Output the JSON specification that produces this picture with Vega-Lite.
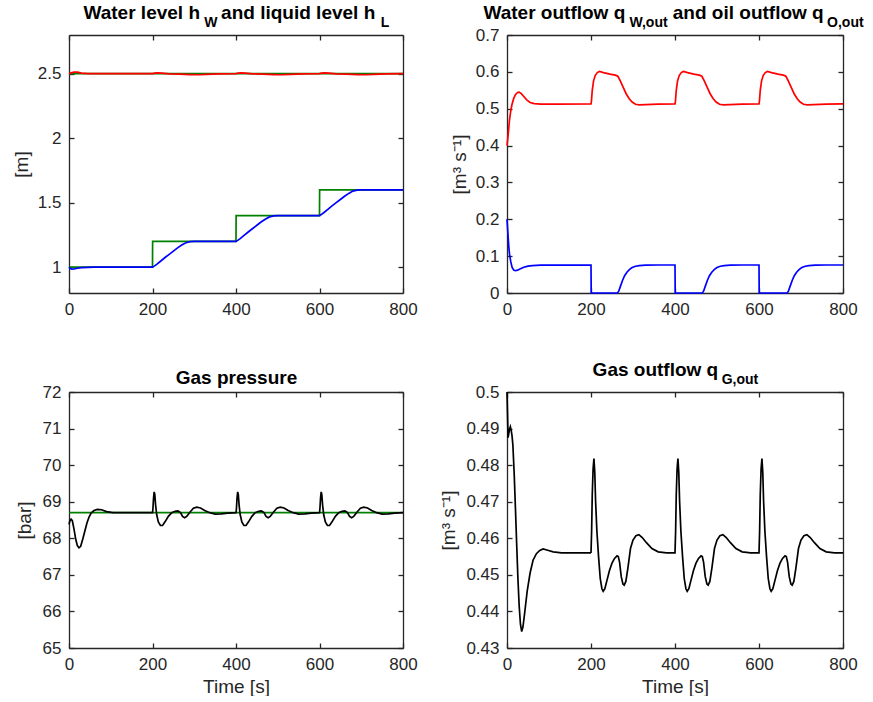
{
"$schema": "https://vega.github.io/schema/vega-lite/v6.json",
"padding": {"left": 12, "top": 3, "right": 0, "bottom": 0},
"background": "white",
"config": {
  "font": "Liberation Sans",
  "view": {"stroke": null},
  "axis": {"grid": false, "domainColor": "#262626", "domainWidth": 1.3, "tickColor": "#262626", "tickWidth": 1.3, "tickSize": -5, "labelColor": "#262626", "labelFont": "Liberation Sans", "labelFontSize": 17, "labelPadding": 13, "labelFlush": false, "labelOverlap": false, "titleColor": "#262626", "titleFont": "Liberation Sans", "titleFontSize": 19, "titleFontWeight": "normal", "titleLimit": 2000, "titlePadding": 0},
  "line": {"strokeWidth": 1.7}
},
"datasets": {
"p1": [
{"t":0,"v":1,"s":"wref"},{"t":200,"v":1,"s":"wref"},{"t":200.3,"v":1.2,"s":"wref"},{"t":400,"v":1.2,"s":"wref"},{"t":400.3,"v":1.4,"s":"wref"},{"t":600,"v":1.4,"s":"wref"},{"t":600.3,"v":1.6,"s":"wref"},{"t":800,"v":1.6,"s":"wref"},
{"t":0,"v":2.5,"s":"lref"},{"t":800,"v":2.5,"s":"lref"},
{"t":0,"v":1.0,"s":"w"},{"t":3,"v":0.99,"s":"w"},{"t":7,"v":0.985,"s":"w"},{"t":12,"v":0.986,"s":"w"},{"t":20,"v":0.992,"s":"w"},{"t":30,"v":0.997,"s":"w"},{"t":45,"v":0.999,"s":"w"},{"t":60,"v":1.0,"s":"w"},{"t":200,"v":1.0,"s":"w"},
{"t":205,"v":1.01,"s":"w"},{"t":210,"v":1.022,"s":"w"},{"t":220,"v":1.048,"s":"w"},{"t":230,"v":1.075,"s":"w"},{"t":240,"v":1.1,"s":"w"},{"t":250,"v":1.125,"s":"w"},{"t":260,"v":1.15,"s":"w"},{"t":270,"v":1.172,"s":"w"},{"t":280,"v":1.19,"s":"w"},{"t":290,"v":1.198,"s":"w"},{"t":300,"v":1.2,"s":"w"},{"t":400,"v":1.2,"s":"w"},
{"t":405,"v":1.21,"s":"w"},{"t":410,"v":1.222,"s":"w"},{"t":420,"v":1.248,"s":"w"},{"t":430,"v":1.275,"s":"w"},{"t":440,"v":1.3,"s":"w"},{"t":450,"v":1.325,"s":"w"},{"t":460,"v":1.35,"s":"w"},{"t":470,"v":1.372,"s":"w"},{"t":480,"v":1.39,"s":"w"},{"t":490,"v":1.398,"s":"w"},{"t":500,"v":1.4,"s":"w"},{"t":600,"v":1.4,"s":"w"},
{"t":605,"v":1.41,"s":"w"},{"t":610,"v":1.422,"s":"w"},{"t":620,"v":1.448,"s":"w"},{"t":630,"v":1.475,"s":"w"},{"t":640,"v":1.5,"s":"w"},{"t":650,"v":1.525,"s":"w"},{"t":660,"v":1.55,"s":"w"},{"t":670,"v":1.572,"s":"w"},{"t":680,"v":1.59,"s":"w"},{"t":690,"v":1.598,"s":"w"},{"t":700,"v":1.6,"s":"w"},{"t":800,"v":1.6,"s":"w"},
{"t":0,"v":2.5,"s":"l"},{"t":5,"v":2.506,"s":"l"},{"t":12,"v":2.513,"s":"l"},{"t":20,"v":2.512,"s":"l"},{"t":30,"v":2.505,"s":"l"},{"t":45,"v":2.5,"s":"l"},{"t":200,"v":2.5,"s":"l"},
{"t":205,"v":2.504,"s":"l"},{"t":212,"v":2.507,"s":"l"},{"t":222,"v":2.504,"s":"l"},{"t":240,"v":2.499,"s":"l"},{"t":265,"v":2.496,"s":"l"},{"t":290,"v":2.493,"s":"l"},{"t":310,"v":2.492,"s":"l"},{"t":330,"v":2.494,"s":"l"},{"t":360,"v":2.498,"s":"l"},{"t":400,"v":2.5,"s":"l"},
{"t":405,"v":2.504,"s":"l"},{"t":412,"v":2.507,"s":"l"},{"t":422,"v":2.504,"s":"l"},{"t":440,"v":2.499,"s":"l"},{"t":465,"v":2.496,"s":"l"},{"t":490,"v":2.493,"s":"l"},{"t":510,"v":2.492,"s":"l"},{"t":530,"v":2.494,"s":"l"},{"t":560,"v":2.498,"s":"l"},{"t":600,"v":2.5,"s":"l"},
{"t":605,"v":2.504,"s":"l"},{"t":612,"v":2.507,"s":"l"},{"t":622,"v":2.504,"s":"l"},{"t":640,"v":2.499,"s":"l"},{"t":665,"v":2.496,"s":"l"},{"t":690,"v":2.493,"s":"l"},{"t":710,"v":2.492,"s":"l"},{"t":730,"v":2.494,"s":"l"},{"t":760,"v":2.498,"s":"l"},{"t":800,"v":2.5,"s":"l"}
],
"p2": [
{"t":0,"v":0.4,"s":"o"},{"t":2,"v":0.42,"s":"o"},{"t":4,"v":0.445,"s":"o"},{"t":6,"v":0.47,"s":"o"},{"t":9,"v":0.495,"s":"o"},{"t":12,"v":0.512,"s":"o"},{"t":16,"v":0.528,"s":"o"},{"t":20,"v":0.538,"s":"o"},{"t":25,"v":0.544,"s":"o"},{"t":29,"v":0.545,"s":"o"},{"t":34,"v":0.541,"s":"o"},{"t":40,"v":0.533,"s":"o"},{"t":47,"v":0.524,"s":"o"},{"t":55,"v":0.517,"s":"o"},{"t":65,"v":0.514,"s":"o"},{"t":80,"v":0.5125,"s":"o"},{"t":120,"v":0.5125,"s":"o"},{"t":200,"v":0.513,"s":"o"},
{"t":201,"v":0.52,"s":"o"},{"t":203,"v":0.55,"s":"o"},{"t":206,"v":0.575,"s":"o"},{"t":210,"v":0.59,"s":"o"},{"t":215,"v":0.598,"s":"o"},{"t":220,"v":0.601,"s":"o"},{"t":230,"v":0.598,"s":"o"},{"t":245,"v":0.594,"s":"o"},{"t":258,"v":0.591,"s":"o"},{"t":264,"v":0.588,"s":"o"},{"t":270,"v":0.575,"s":"o"},{"t":277,"v":0.557,"s":"o"},{"t":284,"v":0.54,"s":"o"},{"t":291,"v":0.527,"s":"o"},{"t":298,"v":0.518,"s":"o"},{"t":306,"v":0.512,"s":"o"},{"t":315,"v":0.5105,"s":"o"},{"t":330,"v":0.511,"s":"o"},{"t":360,"v":0.5125,"s":"o"},{"t":400,"v":0.513,"s":"o"},
{"t":401,"v":0.52,"s":"o"},{"t":403,"v":0.55,"s":"o"},{"t":406,"v":0.575,"s":"o"},{"t":410,"v":0.59,"s":"o"},{"t":415,"v":0.598,"s":"o"},{"t":420,"v":0.601,"s":"o"},{"t":430,"v":0.598,"s":"o"},{"t":445,"v":0.594,"s":"o"},{"t":458,"v":0.591,"s":"o"},{"t":464,"v":0.588,"s":"o"},{"t":470,"v":0.575,"s":"o"},{"t":477,"v":0.557,"s":"o"},{"t":484,"v":0.54,"s":"o"},{"t":491,"v":0.527,"s":"o"},{"t":498,"v":0.518,"s":"o"},{"t":506,"v":0.512,"s":"o"},{"t":515,"v":0.5105,"s":"o"},{"t":530,"v":0.511,"s":"o"},{"t":560,"v":0.5125,"s":"o"},{"t":600,"v":0.513,"s":"o"},
{"t":601,"v":0.52,"s":"o"},{"t":603,"v":0.55,"s":"o"},{"t":606,"v":0.575,"s":"o"},{"t":610,"v":0.59,"s":"o"},{"t":615,"v":0.598,"s":"o"},{"t":620,"v":0.601,"s":"o"},{"t":630,"v":0.598,"s":"o"},{"t":645,"v":0.594,"s":"o"},{"t":658,"v":0.591,"s":"o"},{"t":664,"v":0.588,"s":"o"},{"t":670,"v":0.575,"s":"o"},{"t":677,"v":0.557,"s":"o"},{"t":684,"v":0.54,"s":"o"},{"t":691,"v":0.527,"s":"o"},{"t":698,"v":0.518,"s":"o"},{"t":706,"v":0.512,"s":"o"},{"t":715,"v":0.5105,"s":"o"},{"t":730,"v":0.511,"s":"o"},{"t":760,"v":0.5125,"s":"o"},{"t":800,"v":0.513,"s":"o"},
{"t":0,"v":0.2,"s":"w"},{"t":2,"v":0.165,"s":"w"},{"t":4,"v":0.13,"s":"w"},{"t":6,"v":0.105,"s":"w"},{"t":9,"v":0.085,"s":"w"},{"t":12,"v":0.07,"s":"w"},{"t":16,"v":0.062,"s":"w"},{"t":20,"v":0.0605,"s":"w"},{"t":25,"v":0.062,"s":"w"},{"t":32,"v":0.066,"s":"w"},{"t":40,"v":0.07,"s":"w"},{"t":50,"v":0.073,"s":"w"},{"t":60,"v":0.0745,"s":"w"},{"t":80,"v":0.0755,"s":"w"},{"t":200,"v":0.076,"s":"w"},
{"t":200.5,"v":0,"s":"w"},{"t":263,"v":0,"s":"w"},{"t":266,"v":0.005,"s":"w"},{"t":270,"v":0.018,"s":"w"},{"t":275,"v":0.034,"s":"w"},{"t":280,"v":0.047,"s":"w"},{"t":286,"v":0.057,"s":"w"},{"t":292,"v":0.064,"s":"w"},{"t":298,"v":0.069,"s":"w"},{"t":306,"v":0.0725,"s":"w"},{"t":315,"v":0.0745,"s":"w"},{"t":330,"v":0.0755,"s":"w"},{"t":360,"v":0.076,"s":"w"},{"t":400,"v":0.076,"s":"w"},
{"t":400.5,"v":0,"s":"w"},{"t":465,"v":0,"s":"w"},{"t":468,"v":0.005,"s":"w"},{"t":472,"v":0.018,"s":"w"},{"t":477,"v":0.034,"s":"w"},{"t":482,"v":0.047,"s":"w"},{"t":488,"v":0.057,"s":"w"},{"t":494,"v":0.064,"s":"w"},{"t":500,"v":0.069,"s":"w"},{"t":508,"v":0.0725,"s":"w"},{"t":517,"v":0.0745,"s":"w"},{"t":532,"v":0.0755,"s":"w"},{"t":560,"v":0.076,"s":"w"},{"t":600,"v":0.076,"s":"w"},
{"t":600.5,"v":0,"s":"w"},{"t":667,"v":0,"s":"w"},{"t":670,"v":0.005,"s":"w"},{"t":674,"v":0.018,"s":"w"},{"t":679,"v":0.034,"s":"w"},{"t":684,"v":0.047,"s":"w"},{"t":690,"v":0.057,"s":"w"},{"t":696,"v":0.064,"s":"w"},{"t":702,"v":0.069,"s":"w"},{"t":710,"v":0.0725,"s":"w"},{"t":719,"v":0.0745,"s":"w"},{"t":734,"v":0.0755,"s":"w"},{"t":760,"v":0.076,"s":"w"},{"t":800,"v":0.076,"s":"w"}
],
"p3": [
{"t":0,"v":68.7,"s":"ref"},{"t":800,"v":68.7,"s":"ref"},
{"t":0,"v":68.38,"s":"p"},{"t":2,"v":68.47,"s":"p"},{"t":5,"v":68.52,"s":"p"},{"t":8,"v":68.48,"s":"p"},{"t":12,"v":68.25,"s":"p"},{"t":16,"v":67.98,"s":"p"},{"t":20,"v":67.8,"s":"p"},{"t":24,"v":67.74,"s":"p"},{"t":28,"v":67.78,"s":"p"},{"t":33,"v":67.98,"s":"p"},{"t":38,"v":68.2,"s":"p"},{"t":43,"v":68.42,"s":"p"},{"t":48,"v":68.58,"s":"p"},{"t":53,"v":68.69,"s":"p"},{"t":60,"v":68.76,"s":"p"},{"t":68,"v":68.79,"s":"p"},{"t":78,"v":68.78,"s":"p"},{"t":90,"v":68.73,"s":"p"},{"t":105,"v":68.7,"s":"p"},{"t":200,"v":68.7,"s":"p"},
{"t":201,"v":68.8,"s":"p"},{"t":202.5,"v":69.1,"s":"p"},{"t":204,"v":69.27,"s":"p"},{"t":205.5,"v":69.2,"s":"p"},{"t":207.5,"v":68.9,"s":"p"},{"t":210,"v":68.65,"s":"p"},{"t":214,"v":68.45,"s":"p"},{"t":219,"v":68.35,"s":"p"},{"t":224,"v":68.35,"s":"p"},{"t":230,"v":68.45,"s":"p"},{"t":238,"v":68.6,"s":"p"},{"t":246,"v":68.7,"s":"p"},{"t":254,"v":68.74,"s":"p"},{"t":261,"v":68.75,"s":"p"},{"t":267,"v":68.7,"s":"p"},{"t":272,"v":68.6,"s":"p"},{"t":277,"v":68.56,"s":"p"},{"t":282,"v":68.6,"s":"p"},{"t":290,"v":68.72,"s":"p"},{"t":298,"v":68.82,"s":"p"},{"t":306,"v":68.85,"s":"p"},{"t":315,"v":68.83,"s":"p"},{"t":325,"v":68.76,"s":"p"},{"t":337,"v":68.7,"s":"p"},{"t":350,"v":68.66,"s":"p"},{"t":365,"v":68.67,"s":"p"},{"t":380,"v":68.69,"s":"p"},{"t":400,"v":68.7,"s":"p"},
{"t":401,"v":68.8,"s":"p"},{"t":402.5,"v":69.1,"s":"p"},{"t":404,"v":69.27,"s":"p"},{"t":405.5,"v":69.2,"s":"p"},{"t":407.5,"v":68.9,"s":"p"},{"t":410,"v":68.65,"s":"p"},{"t":414,"v":68.45,"s":"p"},{"t":419,"v":68.35,"s":"p"},{"t":424,"v":68.35,"s":"p"},{"t":430,"v":68.45,"s":"p"},{"t":438,"v":68.6,"s":"p"},{"t":446,"v":68.7,"s":"p"},{"t":454,"v":68.74,"s":"p"},{"t":461,"v":68.75,"s":"p"},{"t":467,"v":68.7,"s":"p"},{"t":472,"v":68.6,"s":"p"},{"t":477,"v":68.56,"s":"p"},{"t":482,"v":68.6,"s":"p"},{"t":490,"v":68.72,"s":"p"},{"t":498,"v":68.82,"s":"p"},{"t":506,"v":68.85,"s":"p"},{"t":515,"v":68.83,"s":"p"},{"t":525,"v":68.76,"s":"p"},{"t":537,"v":68.7,"s":"p"},{"t":550,"v":68.66,"s":"p"},{"t":565,"v":68.67,"s":"p"},{"t":580,"v":68.69,"s":"p"},{"t":600,"v":68.7,"s":"p"},
{"t":601,"v":68.8,"s":"p"},{"t":602.5,"v":69.1,"s":"p"},{"t":604,"v":69.27,"s":"p"},{"t":605.5,"v":69.2,"s":"p"},{"t":607.5,"v":68.9,"s":"p"},{"t":610,"v":68.65,"s":"p"},{"t":614,"v":68.45,"s":"p"},{"t":619,"v":68.35,"s":"p"},{"t":624,"v":68.35,"s":"p"},{"t":630,"v":68.45,"s":"p"},{"t":638,"v":68.6,"s":"p"},{"t":646,"v":68.7,"s":"p"},{"t":654,"v":68.74,"s":"p"},{"t":661,"v":68.75,"s":"p"},{"t":667,"v":68.7,"s":"p"},{"t":672,"v":68.6,"s":"p"},{"t":677,"v":68.56,"s":"p"},{"t":682,"v":68.6,"s":"p"},{"t":690,"v":68.72,"s":"p"},{"t":698,"v":68.82,"s":"p"},{"t":706,"v":68.85,"s":"p"},{"t":715,"v":68.83,"s":"p"},{"t":725,"v":68.76,"s":"p"},{"t":737,"v":68.7,"s":"p"},{"t":750,"v":68.66,"s":"p"},{"t":765,"v":68.67,"s":"p"},{"t":780,"v":68.69,"s":"p"},{"t":800,"v":68.7,"s":"p"}
],
"p4": [
{"t":0,"v":0.5},{"t":1,"v":0.495},{"t":2.5,"v":0.4875},{"t":4,"v":0.4885},{"t":6,"v":0.4898},{"t":8,"v":0.4905},{"t":10,"v":0.4895},{"t":12,"v":0.488},{"t":14,"v":0.4855},{"t":17,"v":0.478},{"t":20,"v":0.4685},{"t":23,"v":0.4585},{"t":26,"v":0.449},{"t":29,"v":0.4415},{"t":32,"v":0.4365},{"t":35,"v":0.4345},{"t":38,"v":0.4358},{"t":42,"v":0.4395},{"t":48,"v":0.4455},{"t":55,"v":0.4505},{"t":62,"v":0.454},{"t":70,"v":0.4558},{"t":78,"v":0.4567},{"t":86,"v":0.4571},{"t":95,"v":0.4568},{"t":110,"v":0.4563},{"t":130,"v":0.456},{"t":200,"v":0.456},
{"t":201.5,"v":0.462},{"t":203,"v":0.472},{"t":205,"v":0.479},{"t":207,"v":0.4818},{"t":209,"v":0.478},{"t":211,"v":0.47},{"t":214,"v":0.462},{"t":218,"v":0.455},{"t":222,"v":0.449},{"t":226,"v":0.4462},{"t":229,"v":0.4455},{"t":233,"v":0.4462},{"t":238,"v":0.4485},{"t":244,"v":0.4512},{"t":250,"v":0.4532},{"t":256,"v":0.4545},{"t":262,"v":0.4552},{"t":265,"v":0.455},{"t":268,"v":0.4535},{"t":272,"v":0.4495},{"t":276,"v":0.4475},{"t":279,"v":0.4472},{"t":283,"v":0.4482},{"t":288,"v":0.452},{"t":294,"v":0.4572},{"t":300,"v":0.4595},{"t":307,"v":0.4607},{"t":314,"v":0.461},{"t":322,"v":0.4602},{"t":332,"v":0.4588},{"t":345,"v":0.4572},{"t":360,"v":0.4563},{"t":380,"v":0.456},{"t":400,"v":0.456},
{"t":401.5,"v":0.462},{"t":403,"v":0.472},{"t":405,"v":0.479},{"t":407,"v":0.4818},{"t":409,"v":0.478},{"t":411,"v":0.47},{"t":414,"v":0.462},{"t":418,"v":0.455},{"t":422,"v":0.449},{"t":426,"v":0.4462},{"t":429,"v":0.4455},{"t":433,"v":0.4462},{"t":438,"v":0.4485},{"t":444,"v":0.4512},{"t":450,"v":0.4532},{"t":456,"v":0.4545},{"t":462,"v":0.4552},{"t":465,"v":0.455},{"t":468,"v":0.4535},{"t":472,"v":0.4495},{"t":476,"v":0.4475},{"t":479,"v":0.4472},{"t":483,"v":0.4482},{"t":488,"v":0.452},{"t":494,"v":0.4572},{"t":500,"v":0.4595},{"t":507,"v":0.4607},{"t":514,"v":0.461},{"t":522,"v":0.4602},{"t":532,"v":0.4588},{"t":545,"v":0.4572},{"t":560,"v":0.4563},{"t":580,"v":0.456},{"t":600,"v":0.456},
{"t":601.5,"v":0.462},{"t":603,"v":0.472},{"t":605,"v":0.479},{"t":607,"v":0.4818},{"t":609,"v":0.478},{"t":611,"v":0.47},{"t":614,"v":0.462},{"t":618,"v":0.455},{"t":622,"v":0.449},{"t":626,"v":0.4462},{"t":629,"v":0.4455},{"t":633,"v":0.4462},{"t":638,"v":0.4485},{"t":644,"v":0.4512},{"t":650,"v":0.4532},{"t":656,"v":0.4545},{"t":662,"v":0.4552},{"t":665,"v":0.455},{"t":668,"v":0.4535},{"t":672,"v":0.4495},{"t":676,"v":0.4475},{"t":679,"v":0.4472},{"t":683,"v":0.4482},{"t":688,"v":0.452},{"t":694,"v":0.4572},{"t":700,"v":0.4595},{"t":707,"v":0.4607},{"t":714,"v":0.461},{"t":722,"v":0.4602},{"t":732,"v":0.4588},{"t":745,"v":0.4572},{"t":760,"v":0.4563},{"t":780,"v":0.456},{"t":800,"v":0.456}
]
},
"columns": 2,
"spacing": {"row": 99, "column": 104},
"bounds": "flush",
"concat": [
 {"width": 334, "height": 258, "data": {"name": "p1"},
  "resolve": {"axis": {"x": "independent", "y": "independent"}},
  "layer": [
   {"transform": [{"filter": "datum.s == 'wref' || datum.s == 'lref'"}],
    "mark": {"type": "line", "color": "#008000"},
    "encoding": {
     "x": {"field": "t", "type": "quantitative", "scale": {"domain": [0, 800], "nice": false, "zero": false}, "axis": {"orient": "bottom", "values": [0, 200, 400, 600, 800], "title": null}},
     "y": {"field": "v", "type": "quantitative", "scale": {"domain": [0.8, 2.8], "nice": false, "zero": false}, "axis": {"orient": "left", "values": [1, 1.5, 2, 2.5], "format": "~g", "title": "[m]", "titleAngle": 270, "titleX": -48, "titleY": 129, "titleAlign": "center", "titleBaseline": "middle"}},
     "detail": {"field": "s", "type": "nominal"}}},
   {"transform": [{"filter": "datum.s == 'w'"}],
    "mark": {"type": "line", "color": "#0000ff"},
    "encoding": {
     "x": {"field": "t", "type": "quantitative", "scale": {"domain": [0, 800], "nice": false, "zero": false}, "axis": {"orient": "top", "values": [0, 200, 400, 600, 800], "labels": false, "title": "Water level h\u00a0\u00a0\u00a0\u00a0and liquid level h", "titleX": 14, "titleY": -16.7, "titleAlign": "left", "titleBaseline": "alphabetic", "titleAngle": 0, "titleFontSize": 19, "titleFontWeight": "bold", "titleColor": "#000000"}},
     "y": {"field": "v", "type": "quantitative", "scale": {"domain": [0.8, 2.8], "nice": false, "zero": false}, "axis": {"orient": "right", "values": [1, 1.5, 2, 2.5], "labels": false, "title": "W\u00a0\u00a0\u00a0\u00a0\u00a0\u00a0\u00a0\u00a0\u00a0\u00a0\u00a0\u00a0\u00a0\u00a0\u00a0\u00a0\u00a0\u00a0\u00a0\u00a0\u00a0\u00a0\u00a0\u00a0\u00a0\u00a0\u00a0\u00a0\u00a0\u00a0\u00a0\u00a0\u00a0\u00a0\u00a0\u00a0\u00a0\u00a0\u00a0\u00a0\u00a0\u00a0L", "titleX": -199.3, "titleY": -9, "titleAngle": 0, "titleAlign": "left", "titleBaseline": "alphabetic", "titleFontSize": 14, "titleFontWeight": "bold", "titleColor": "#000000"}}}},
   {"transform": [{"filter": "datum.s == 'l'"}],
    "mark": {"type": "line", "color": "#ff0000"},
    "encoding": {
     "x": {"field": "t", "type": "quantitative", "scale": {"domain": [0, 800], "nice": false, "zero": false}, "axis": null},
     "y": {"field": "v", "type": "quantitative", "scale": {"domain": [0.8, 2.8], "nice": false, "zero": false}, "axis": null}}}
  ]},
 {"width": 336, "height": 258, "data": {"name": "p2"},
  "resolve": {"axis": {"x": "independent", "y": "independent"}},
  "layer": [
   {"transform": [{"filter": "datum.s == 'o'"}],
    "mark": {"type": "line", "color": "#ff0000"},
    "encoding": {
     "x": {"field": "t", "type": "quantitative", "scale": {"domain": [0, 800], "nice": false, "zero": false}, "axis": {"orient": "bottom", "values": [0, 200, 400, 600, 800], "title": null}},
     "y": {"field": "v", "type": "quantitative", "scale": {"domain": [0, 0.7], "nice": false, "zero": false}, "axis": {"orient": "left", "values": [0, 0.1, 0.2, 0.3, 0.4, 0.5, 0.6, 0.7], "format": "~g", "title": "[m³ s⁻¹]", "titleAngle": 270, "titleX": -48, "titleY": 129, "titleAlign": "center", "titleBaseline": "middle"}}}},
   {"transform": [{"filter": "datum.s == 'w'"}],
    "mark": {"type": "line", "color": "#0000ff"},
    "encoding": {
     "x": {"field": "t", "type": "quantitative", "scale": {"domain": [0, 800], "nice": false, "zero": false}, "axis": {"orient": "top", "values": [0, 200, 400, 600, 800], "labels": false, "title": "Water outflow q\u00a0\u00a0\u00a0\u00a0\u00a0\u00a0\u00a0\u00a0\u00a0and oil outflow q", "titleX": -24, "titleY": -16.7, "titleAlign": "left", "titleBaseline": "alphabetic", "titleAngle": 0, "titleFontSize": 19, "titleFontWeight": "bold", "titleColor": "#000000"}},
     "y": {"field": "v", "type": "quantitative", "scale": {"domain": [0, 0.7], "nice": false, "zero": false}, "axis": {"orient": "right", "values": [0, 0.1, 0.2, 0.3, 0.4, 0.5, 0.6, 0.7], "labels": false, "title": "W,out\u00a0\u00a0\u00a0\u00a0\u00a0\u00a0\u00a0\u00a0\u00a0\u00a0\u00a0\u00a0\u00a0\u00a0\u00a0\u00a0\u00a0\u00a0\u00a0\u00a0\u00a0\u00a0\u00a0\u00a0\u00a0\u00a0\u00a0\u00a0\u00a0\u00a0\u00a0\u00a0\u00a0\u00a0\u00a0\u00a0\u00a0\u00a0\u00a0\u00a0\u00a0O,out", "titleX": -214, "titleY": -9, "titleAngle": 0, "titleAlign": "left", "titleBaseline": "alphabetic", "titleFontSize": 14, "titleFontWeight": "bold", "titleColor": "#000000"}}}}
  ]},
 {"width": 334, "height": 256, "data": {"name": "p3"},
  "resolve": {"axis": {"x": "independent", "y": "independent"}},
  "layer": [
   {"transform": [{"filter": "datum.s == 'ref'"}],
    "mark": {"type": "line", "color": "#008000"},
    "encoding": {
     "x": {"field": "t", "type": "quantitative", "scale": {"domain": [0, 800], "nice": false, "zero": false}, "axis": {"orient": "bottom", "values": [0, 200, 400, 600, 800], "title": "Time [s]", "titleX": 167, "titleY": 44, "titleAlign": "center", "titleBaseline": "alphabetic", "titleAngle": 0}},
     "y": {"field": "v", "type": "quantitative", "scale": {"domain": [65, 72], "nice": false, "zero": false}, "axis": {"orient": "left", "values": [65, 66, 67, 68, 69, 70, 71, 72], "format": "~g", "title": "[bar]", "titleAngle": 270, "titleX": -45, "titleY": 128, "titleAlign": "center", "titleBaseline": "middle"}}}},
   {"transform": [{"filter": "datum.s == 'p'"}],
    "mark": {"type": "line", "color": "#000000"},
    "encoding": {
     "x": {"field": "t", "type": "quantitative", "scale": {"domain": [0, 800], "nice": false, "zero": false}, "axis": {"orient": "top", "values": [0, 200, 400, 600, 800], "labels": false, "title": "Gas pressure", "titleX": 167, "titleY": -8.5, "titleAlign": "center", "titleBaseline": "alphabetic", "titleAngle": 0, "titleFontSize": 19, "titleFontWeight": "bold", "titleColor": "#000000"}},
     "y": {"field": "v", "type": "quantitative", "scale": {"domain": [65, 72], "nice": false, "zero": false}, "axis": {"orient": "right", "values": [65, 66, 67, 68, 69, 70, 71, 72], "labels": false, "title": null}}}}
  ]},
 {"width": 336, "height": 256, "data": {"name": "p4"},
  "resolve": {"axis": {"x": "independent", "y": "independent"}},
  "layer": [
   {"transform": [{"filter": "datum.t <= 200"}],
    "mark": {"type": "line", "color": "#000000"},
    "encoding": {
     "x": {"field": "t", "type": "quantitative", "scale": {"domain": [0, 800], "nice": false, "zero": false}, "axis": {"orient": "bottom", "values": [0, 200, 400, 600, 800], "title": "Time [s]", "titleX": 168, "titleY": 44, "titleAlign": "center", "titleBaseline": "alphabetic", "titleAngle": 0}},
     "y": {"field": "v", "type": "quantitative", "scale": {"domain": [0.43, 0.5], "nice": false, "zero": false}, "axis": {"orient": "left", "values": [0.43, 0.44, 0.45, 0.46, 0.47, 0.48, 0.49, 0.5], "format": "~g", "title": "[m³ s⁻¹]", "titleAngle": 270, "titleX": -59, "titleY": 128, "titleAlign": "center", "titleBaseline": "middle"}}}},
   {"transform": [{"filter": "datum.t >= 200"}],
    "mark": {"type": "line", "color": "#000000"},
    "encoding": {
     "x": {"field": "t", "type": "quantitative", "scale": {"domain": [0, 800], "nice": false, "zero": false}, "axis": {"orient": "top", "values": [0, 200, 400, 600, 800], "labels": false, "title": "Gas outflow q", "titleX": 85.1, "titleY": -17, "titleAlign": "left", "titleBaseline": "alphabetic", "titleAngle": 0, "titleFontSize": 19, "titleFontWeight": "bold", "titleColor": "#000000"}},
     "y": {"field": "v", "type": "quantitative", "scale": {"domain": [0.43, 0.5], "nice": false, "zero": false}, "axis": {"orient": "right", "values": [0.43, 0.44, 0.45, 0.46, 0.47, 0.48, 0.49, 0.5], "labels": false, "title": "G,out", "titleX": -121.8, "titleY": -8.7, "titleAngle": 0, "titleAlign": "left", "titleBaseline": "alphabetic", "titleFontSize": 14, "titleFontWeight": "bold", "titleColor": "#000000"}}}}
  ]}
]
}
